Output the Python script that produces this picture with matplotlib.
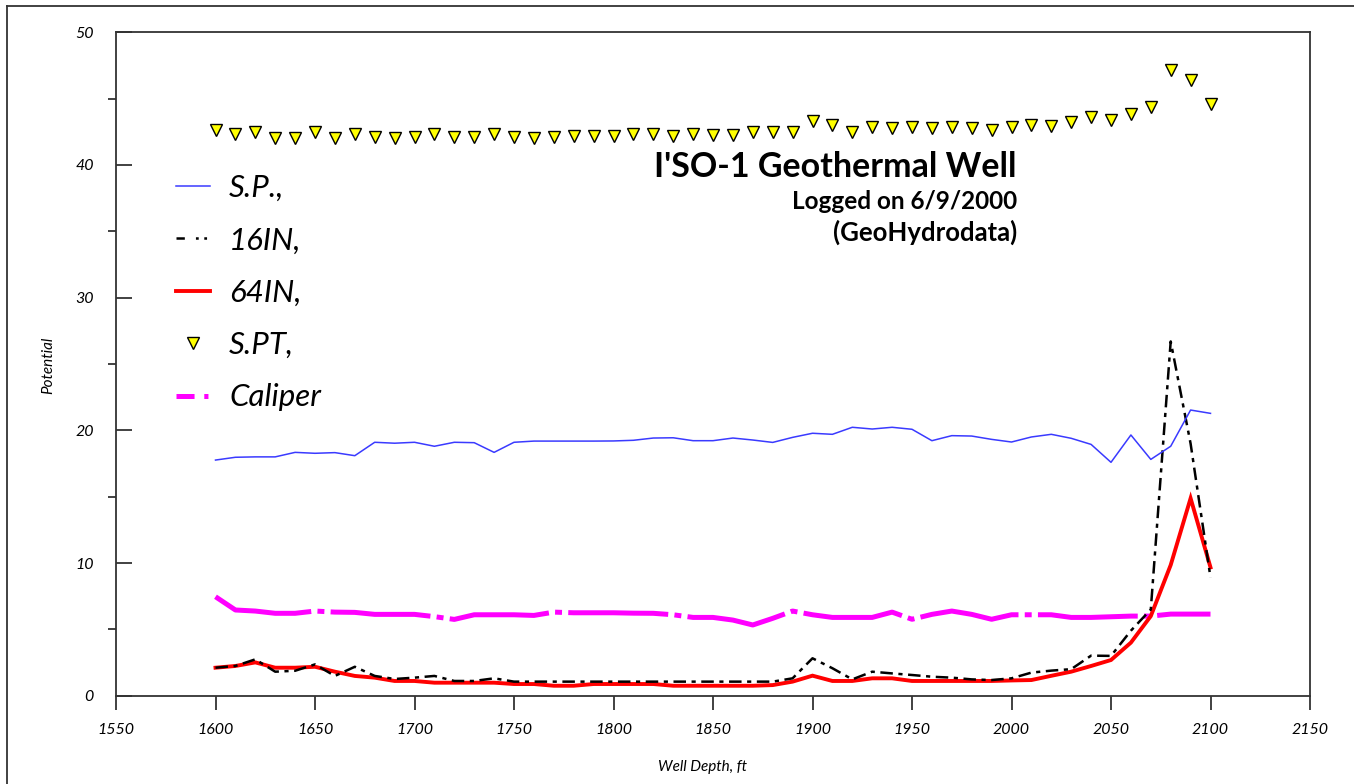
import numpy as np
import matplotlib
matplotlib.use("Agg")
import matplotlib.pyplot as plt
from matplotlib.lines import Line2D
from matplotlib.ticker import MultipleLocator

# Well log readings every 10 ft
depth = np.arange(1600, 2101, 10)

sp = [17.76, 17.97, 18.00, 18.00, 18.34, 18.27, 18.32, 18.09, 19.10, 19.03,
      19.10, 18.80, 19.10, 19.07, 18.34, 19.10, 19.19, 19.19, 19.19, 19.19,
      19.20, 19.25, 19.42, 19.44, 19.22, 19.22, 19.42, 19.27, 19.09, 19.47,
      19.78, 19.70, 20.23, 20.10, 20.23, 20.08, 19.22, 19.60, 19.57, 19.32,
      19.12, 19.50, 19.70, 19.40, 18.94, 17.59, 19.65, 17.81, 18.80, 21.53,
      21.28]

in16 = [2.11, 2.24, 2.74, 1.81, 1.88, 2.36, 1.49, 2.18, 1.49, 1.26,
        1.36, 1.49, 1.11, 1.11, 1.31, 1.06, 1.06, 1.06, 1.06, 1.06,
        1.06, 1.06, 1.06, 1.06, 1.06, 1.06, 1.06, 1.06, 1.06, 1.31,
        2.82, 2.07, 1.23, 1.81, 1.68, 1.56, 1.43, 1.36, 1.23, 1.18,
        1.31, 1.74, 1.89, 2.00, 3.02, 3.00, 4.90, 6.50, 26.70, 19.00,
        8.90]

in64 = [2.11, 2.24, 2.51, 2.11, 2.11, 2.18, 1.81, 1.49, 1.36, 1.11,
        1.11, 0.98, 0.98, 0.98, 0.98, 0.88, 0.88, 0.75, 0.75, 0.88,
        0.88, 0.88, 0.88, 0.75, 0.75, 0.75, 0.75, 0.75, 0.80, 1.06,
        1.51, 1.11, 1.11, 1.31, 1.31, 1.11, 1.11, 1.11, 1.11, 1.11,
        1.15, 1.18, 1.50, 1.81, 2.24, 2.69, 4.00, 6.00, 9.85, 14.88,
        9.67]

spt = [42.60, 42.30, 42.50, 42.00, 42.00, 42.45, 42.00, 42.33, 42.10, 42.00,
       42.10, 42.30, 42.10, 42.10, 42.30, 42.10, 42.00, 42.10, 42.20, 42.20,
       42.20, 42.30, 42.30, 42.20, 42.33, 42.26, 42.26, 42.50, 42.50, 42.50,
       43.28, 43.00, 42.50, 42.83, 42.75, 42.83, 42.75, 42.83, 42.75, 42.65,
       42.85, 43.00, 42.95, 43.26, 43.58, 43.37, 43.83, 44.35, 47.14, 46.39,
       44.59]

caliper = [7.46, 6.46, 6.38, 6.21, 6.21, 6.38, 6.30, 6.28, 6.13, 6.13,
           6.13, 5.96, 5.75, 6.10, 6.10, 6.10, 6.05, 6.30, 6.25, 6.25,
           6.25, 6.22, 6.21, 6.10, 5.90, 5.90, 5.70, 5.33, 5.83, 6.38,
           6.10, 5.90, 5.90, 5.90, 6.30, 5.76, 6.13, 6.38, 6.13, 5.76,
           6.10, 6.10, 6.10, 5.90, 5.90, 5.95, 6.00, 6.00, 6.15, 6.15,
           6.15]

series_labels = ["S.P.,", "16IN,", "64IN,", "S.PT,", "Caliper"]
title_lines = ["I'SO-1 Geothermal Well", "Logged on 6/9/2000", "(GeoHydrodata)"]
xticks = list(range(1550, 2151, 50))
yticks = list(range(0, 51, 10))
xlabel = "Well Depth, ft"
ylabel = "Potential"

BLUE = "#3a3aff"
RED = "#ff0000"
MAGENTA = "#ff00ff"
YELLOW = "#ffff00"
FRAME = "#333333"

plt.rcParams["font.family"] = ["Lato", "DejaVu Sans"]
plt.rcParams["font.style"] = "italic"
plt.rcParams["lines.scale_dashes"] = False

W, H = 1354, 784
fig = plt.figure(figsize=(W / 100, H / 100), dpi=100)
fig.patch.set_facecolor("white")

# outer frame of the sheet (left and top edges)
fig.add_artist(Line2D([7 / W, 7 / W], [0, 1 - 6 / H], transform=fig.transFigure,
                      color=FRAME, lw=1.3))
fig.add_artist(Line2D([7 / W, 1], [1 - 6 / H, 1 - 6 / H], transform=fig.transFigure,
                      color=FRAME, lw=1.3))

ax = fig.add_axes([116 / W, 1 - 695.7 / H, (1310 - 116) / W, (695.7 - 32.3) / H])

cal_style = (0, (72, 4.5, 5, 4.5))
in16_style = (0, (9, 4, 3, 4))

ax.plot(depth, caliper, color=MAGENTA, lw=3.6, ls=cal_style,
        solid_capstyle="butt", dash_capstyle="butt")
ax.plot(depth, in64, color=RED, lw=2.8, solid_joinstyle="miter")
ax.plot(depth, in16, color="black", lw=1.8, ls=in16_style, dash_capstyle="butt")
ax.plot(depth, sp, color=BLUE, lw=1.1)
ax.plot(depth, spt, ls="none", marker="v", ms=9, mfc=YELLOW, mec="black", mew=1.0)

ax.set_xlim(1550, 2150)
ax.set_ylim(0, 50)
ax.set_xticks(xticks)
ax.set_yticks(yticks)
ax.yaxis.set_minor_locator(MultipleLocator(5))
ax.tick_params(axis="x", which="major", direction="out", length=10, width=1.3,
               color=FRAME, pad=10, labelsize=11.5, top=False)
ax.tick_params(axis="y", which="major", direction="in", length=11.5, width=1.3,
               color=FRAME, pad=16, labelsize=11.5, right=False)
ax.tick_params(axis="y", which="minor", direction="out", length=6, width=1.3,
               color=FRAME, right=False)
ax.tick_params(axis="x", which="minor", bottom=False, top=False)

for s in ax.spines.values():
    s.set_color(FRAME)
    s.set_linewidth(1.3)

ax.set_xlabel(xlabel, fontsize=11)
ax.set_ylabel(ylabel, fontsize=11)
ax.xaxis.set_label_coords((702 - 116) / 1194, (695.7 - 767) / 663.4)
ax.xaxis.label.set_va("center")
ax.yaxis.set_label_coords((48 - 116) / 1194, (695.7 - 365) / 663.4)
ax.yaxis.label.set_va("center")

handles = [
    Line2D([], [], color=BLUE, lw=1.1),
    Line2D([], [], color="black", lw=1.8, ls=(0, (6, 8, 2, 4, 2, 10))),
    Line2D([], [], color=RED, lw=2.8),
    Line2D([], [], ls="none", marker="v", ms=9, mfc=YELLOW, mec="black", mew=1.0),
    Line2D([], [], color=MAGENTA, lw=3.6, ls=(0, (13, 7, 3, 20))),
]
ax.legend(handles, series_labels, loc="upper left",
          bbox_to_anchor=((176 - 116) / 1194, (695.7 - 174) / 663.4),
          frameon=False, fontsize=22.5, handlelength=1.1, handletextpad=0.6,
          labelspacing=0.78, borderpad=0, borderaxespad=0, numpoints=1)

title_sizes = [24.5, 17.5, 18.5]
title_base = [177, 209, 241]
for txt, fs, yb in zip(title_lines, title_sizes, title_base):
    fig.text(1017 / W, 1 - yb / H, txt, ha="right", va="baseline",
             fontsize=fs, fontweight="bold", fontstyle="normal")

fig.savefig("out.png", dpi=100, facecolor="white")
